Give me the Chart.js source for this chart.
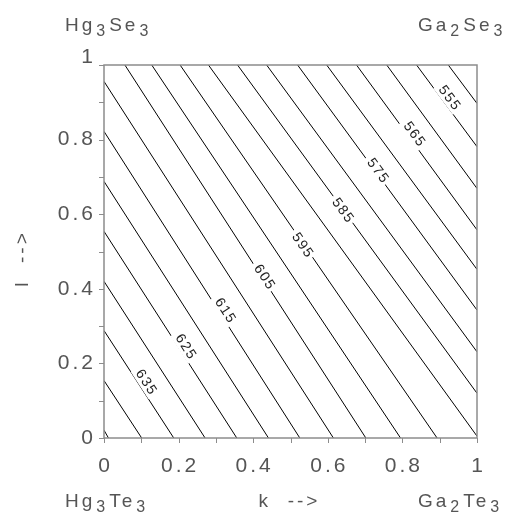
<!DOCTYPE html>
<html><head><meta charset="utf-8">
<script src="https://cdn.jsdelivr.net/npm/chart.js@4.4.0/dist/chart.umd.min.js"></script>
<style>html,body{margin:0;padding:0;background:#fff;}#wrap{width:506px;height:519px;}</style>
</head><body><div id="wrap"><canvas id="c" width="506" height="519"></canvas></div>
<script>
// contour levels (every 5), one polyline per level: k values and l values
const levels = [550,555,560,565,570,575,580,585,590,595,600,605,610,615,620,625,630,635,640,645];
const lineK = [
 [0.923,1.0],[0.838,1.0],[0.758,1.0],[0.677,1.0],[0.597,1.0],[0.519,1.0],[0.436,1.0],[0.358,1.0],[0.280,1.0],
 [0.204,0.893],[0.128,0.795],[0.056,0.702],
 [0,0.615],[0,0.525],[0,0.441],[0,0.356],[0,0.271],[0,0.187],[0,0.101],[0,0.012]];
const lineL = [
 [1,0.897],[1,0.781],[1,0.669],[1,0.558],[1,0.452],[1,0.343],[1,0.231],[1,0.120],[1,0.005],
 [1,0],[1,0],[1,0],
 [0.956,0],[0.822,0],[0.688,0],[0.554,0],[0.420,0],[0.288,0],[0.154,0],[0.021,0]];
// contour labels
const labelLevels = [555,565,575,585,595,605,615,625,635];
const labelK = [0.925,0.831,0.733,0.639,0.531,0.429,0.324,0.218,0.112];
const labelL = [0.912,0.815,0.717,0.610,0.517,0.432,0.342,0.245,0.150];
// axes
const minorTicks = [0,0.1,0.2,0.3,0.4,0.5,0.6,0.7,0.8,0.9,1];
const tickValues = [0,0.2,0.4,0.6,0.8,1];
const tickLabels = ['0','0.2','0.4','0.6','0.8','1'];

const datasets = levels.map((lv,i)=>({
  label: String(lv),
  data: lineK[i].map((k,j)=>({x:k, y:lineL[i][j]})),
  borderColor:'#000', borderWidth:1, pointRadius:0, tension:0, fill:false
}));

const FONT = '"Liberation Sans Narrow", "Liberation Sans", sans-serif';
const TXT = '#555';

function txt(ctx, s, x, y, size, align, spacing){
  ctx.font = size+'px '+FONT;
  ctx.letterSpacing = (spacing||0)+'px';
  let w = ctx.measureText(s).width - (spacing||0);
  let x0 = align==='center' ? x - w/2 : (align==='right' ? x - w : x);
  ctx.textAlign='left';
  ctx.fillText(s, x0, y);
  return x0 + w + (spacing||0);
}
function chem(ctx, parts, x, y){
  let cx = x;
  parts.forEach(([s,sub])=>{
    cx = txt(ctx, s, cx, sub? y+5 : y, sub?16:19, 'left', 3) + 1;
  });
}

const decor = {
  id:'decor',
  afterDatasetsDraw(chart){
    const {ctx, scales:{x,y}} = chart;
    ctx.save();
    labelLevels.forEach((lv,i)=>{
      const di = levels.indexOf(lv);
      const pts = chart.data.datasets[di].data;
      const p0 = pts[0], p1 = pts[pts.length-1];
      const ang = Math.atan2(y.getPixelForValue(p1.y)-y.getPixelForValue(p0.y), x.getPixelForValue(p1.x)-x.getPixelForValue(p0.x));
      const px = x.getPixelForValue(labelK[i]), py = y.getPixelForValue(labelL[i]);
      ctx.save();
      ctx.translate(px,py); ctx.rotate(ang);
      ctx.font = '14px '+FONT; ctx.letterSpacing='1.5px';
      const w = ctx.measureText(String(lv)).width;
      ctx.fillStyle='#fff';
      ctx.fillRect(-w/2-3, -7, w+5, 14);
      ctx.fillStyle='#222'; ctx.textBaseline='middle';
      txt(ctx, String(lv), 0, 0, 14, 'center', 1.5);
      ctx.restore();
    });
    ctx.restore();
  },
  afterDraw(chart){
    const {ctx, chartArea:a, scales:{x,y}} = chart;
    ctx.save();
    ctx.strokeStyle='#8c8c8c'; ctx.lineWidth=1.5;
    ctx.strokeRect(a.left, a.top, a.right-a.left, a.bottom-a.top);
    ctx.lineWidth=1;
    ctx.beginPath();
    minorTicks.forEach(v=>{
      const px = Math.round(x.getPixelForValue(v))+0.5;
      ctx.moveTo(px, a.bottom); ctx.lineTo(px, a.bottom+5);
      const py = Math.round(y.getPixelForValue(v))+0.5;
      ctx.moveTo(a.left-5, py); ctx.lineTo(a.left, py);
    });
    ctx.stroke();
    ctx.fillStyle = TXT; ctx.textBaseline='middle';
    tickValues.forEach((v,i)=>{
      txt(ctx, tickLabels[i], x.getPixelForValue(v), 466, 21, 'center', 3);
      let py = y.getPixelForValue(v);
      if (v===1) py -= 8;
      txt(ctx, tickLabels[i], 93, py, 21, 'right', 3);
    });
    ctx.textBaseline='alphabetic';
    chem(ctx, [['Hg',0],['3',1],['Se',0],['3',1]], 65, 31);
    chem(ctx, [['Ga',0],['2',1],['Se',0],['3',1]], 418, 31);
    chem(ctx, [['Hg',0],['3',1],['Te',0],['3',1]], 65, 507);
    chem(ctx, [['Ga',0],['2',1],['Te',0],['3',1]], 418, 507);
    txt(ctx, 'k  -->', 288, 507, 19, 'center', 3);
    ctx.save();
    ctx.translate(28, 260); ctx.rotate(-Math.PI/2);
    txt(ctx, 'l  -->', 0, 0, 19, 'center', 3);
    ctx.restore();
    ctx.restore();
  }
};

new Chart(document.getElementById('c'), {
  type:'line',
  data:{datasets},
  options:{
    responsive:false, animation:false, devicePixelRatio:1,
    layout:{padding:{left:104, right:29, top:65, bottom:81}},
    plugins:{legend:{display:false}, tooltip:{enabled:false}},
    scales:{
      x:{type:'linear', min:0, max:1, display:false},
      y:{type:'linear', min:0, max:1, display:false}
    }
  },
  plugins:[decor]
});
</script></body></html>
